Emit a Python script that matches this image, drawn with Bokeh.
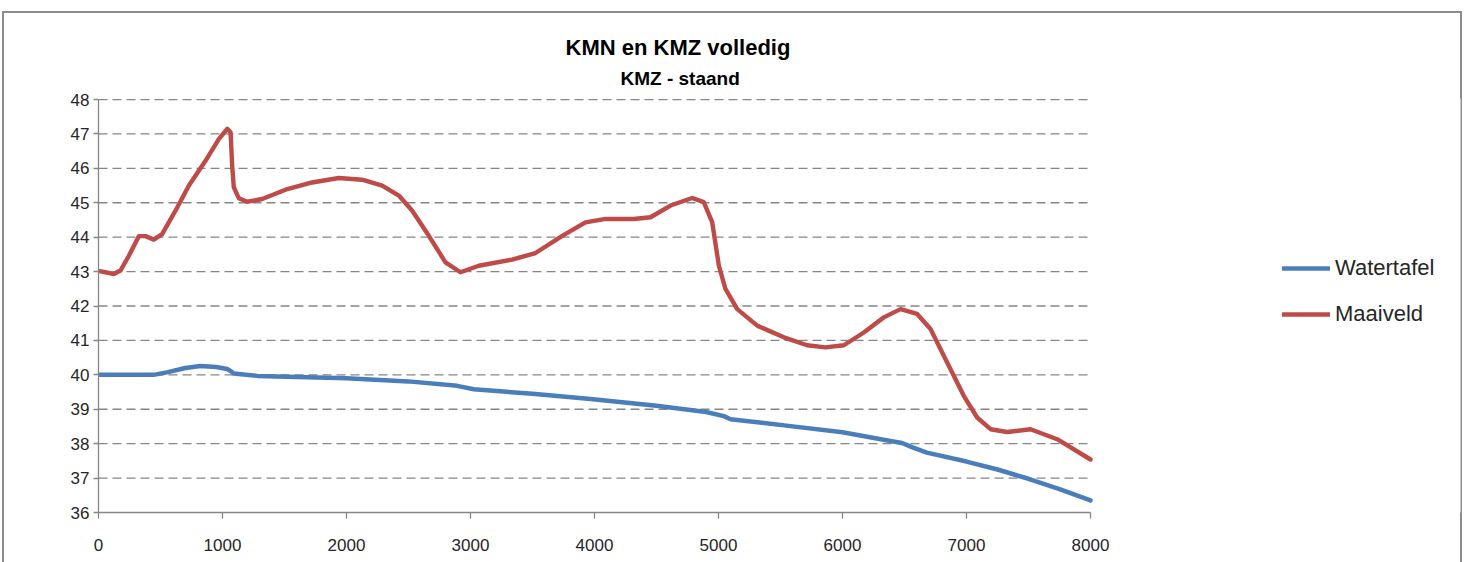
from bokeh.plotting import figure
from bokeh.models import Title, Legend, LegendItem, FixedTicker, Range1d
from bokeh.embed import file_html
from bokeh.resources import INLINE

# ---- data ----
x_watertafel = [0, 445, 560, 700, 823, 950, 1038, 1070, 1091, 1280,
                2000, 2500, 2892, 3027, 3500, 3968, 4500, 4900, 5043, 5097,
                5581, 6000, 6387, 6480, 6560, 6680, 7000, 7250, 7500, 7750,
                8000]
y_watertafel = [40.0, 40.0, 40.08, 40.2, 40.26, 40.23, 40.17, 40.1, 40.04, 39.97,
                39.9, 39.81, 39.68, 39.58, 39.45, 39.3, 39.1, 38.92, 38.8, 38.71,
                38.51, 38.33, 38.08, 38.02, 37.9, 37.74, 37.48, 37.25, 36.98, 36.68,
                36.35]

x_maaiveld = [0, 124, 177, 245, 325, 379, 446, 513, 621, 729,
              863, 970, 1038, 1065, 1078, 1091, 1132, 1199, 1320, 1508,
              1723, 1938, 2126, 2288, 2422, 2530, 2664, 2798, 2919, 3067,
              3336, 3524, 3740, 3927, 4089, 4317, 4452, 4613, 4788, 4881,
              4949, 5003, 5056, 5151, 5312, 5527, 5715, 5863, 6011, 6172,
              6333, 6468, 6602, 6710, 6844, 6978, 7086, 7194, 7328, 7516,
              7731, 8000]
y_maaiveld = [43.02, 42.93, 43.03, 43.46, 44.03, 44.03, 43.93, 44.09, 44.77, 45.5,
              46.22, 46.85, 47.15, 47.05, 46.08, 45.45, 45.13, 45.03, 45.11, 45.38,
              45.59, 45.72, 45.67, 45.5, 45.21, 44.77, 44.04, 43.27, 42.98, 43.17,
              43.35, 43.54, 44.04, 44.43, 44.53, 44.53, 44.58, 44.92, 45.14, 45.02,
              44.44, 43.17, 42.5, 41.91, 41.43, 41.09, 40.86, 40.8, 40.86, 41.23,
              41.67, 41.91, 41.77, 41.33, 40.36, 39.39, 38.76, 38.42, 38.34, 38.42,
              38.13, 37.54]

x_min, x_max = 0, 8000
x_ticks = [0, 1000, 2000, 3000, 4000, 5000, 6000, 7000, 8000]
y_ticks = [36, 37, 38, 39, 40, 41, 42, 43, 44, 45, 46, 47, 48]

title_text = "KMN en KMZ volledig"
subtitle_text = "KMZ - staand"
series_names = ["Watertafel", "Maaiveld"]
series_colors = ["#4A7EBB", "#BE4B48"]

FONT = "Liberation Sans"
GRID = "#868686"

# the frame runs on to the right edge so that the legend (right of the plot) is not clipped;
# axis and grid lines stop at x = 8000
p = figure(width=1460, height=551, output_backend="svg", toolbar_location=None,
           x_range=Range1d(0, 10984), y_range=Range1d(36, 48.03),
           min_border_left=96, min_border_right=2, min_border_top=87,
           min_border_bottom=50, background_fill_color="white",
           border_fill_alpha=0, outline_line_color=None)
p.styles = {"position": "relative", "top": "11px", "left": "2px",
            "box-shadow": "inset 2px 2px 0 0 #8c8c8c, inset -2px 0 0 0 #8c8c8c"}

# horizontal dashed grid lines at the y ticks (except the axis itself)
grid_y = y_ticks[1:]
p.segment(x0=[x_min] * len(grid_y), y0=grid_y, x1=[x_max] * len(grid_y), y1=grid_y,
          line_color=GRID, line_width=1.3, line_dash="9 5")

r_w = p.line(x_watertafel, y_watertafel, line_color=series_colors[0], line_width=4.5,
             line_join="round", line_cap="round")
r_m = p.line(x_maaiveld, y_maaiveld, line_color=series_colors[1], line_width=4.4,
             line_join="round", line_cap="round")

# axes
for ax in (p.xaxis[0], p.yaxis[0]):
    ax.axis_line_color = GRID
    ax.axis_line_width = 1.3
    ax.major_tick_line_color = GRID
    ax.major_tick_line_width = 1.3
    ax.minor_tick_line_color = None
    ax.major_label_text_font = FONT
    ax.major_label_text_font_size = "17px"
    ax.major_label_text_color = "#262626"
    ax.major_tick_in = 0
p.xaxis[0].ticker = FixedTicker(ticks=x_ticks)
p.xaxis[0].bounds = (x_min, x_max)
p.yaxis[0].ticker = FixedTicker(ticks=y_ticks)
p.yaxis[0].bounds = (y_ticks[0], y_ticks[-1])
p.xaxis[0].major_tick_out = 6
p.xaxis[0].major_label_standoff = 20
p.yaxis[0].major_tick_out = 5
p.yaxis[0].major_label_standoff = 4

p.xgrid.grid_line_color = None
p.ygrid.grid_line_color = None

# titles
p.add_layout(Title(text=subtitle_text, align="left", offset=522, text_font=FONT,
                   text_font_size="19px", text_font_style="bold", text_color="#000000",
                   vertical_align="top", standoff=16), "above")
p.add_layout(Title(text=title_text, align="left", offset=467, text_font=FONT,
                   text_font_size="22px", text_font_style="bold", text_color="#000000",
                   standoff=0), "above")

legend = Legend(items=[LegendItem(label=series_names[0], renderers=[r_w]),
                       LegendItem(label=series_names[1], renderers=[r_m])],
                location=(1184, 185), orientation="vertical",
                label_text_font=FONT, label_text_font_size="22px",
                label_text_color="#262626", glyph_width=48, glyph_height=24,
                spacing=20, label_standoff=5, padding=0, margin=0,
                border_line_color=None, background_fill_alpha=0)
p.add_layout(legend, "center")

html = file_html(p, INLINE)
open("out.html", "w").write(html)
